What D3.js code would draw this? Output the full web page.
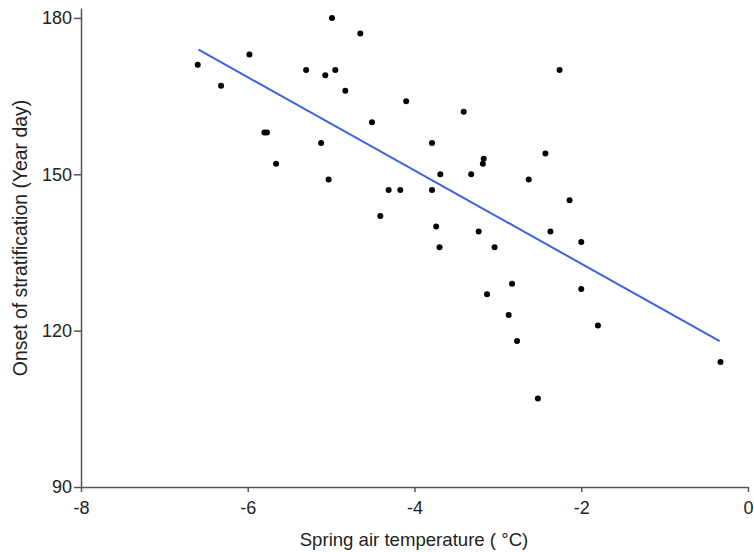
<!DOCTYPE html>
<html>
<head>
<meta charset="utf-8">
<script src="https://cdn.jsdelivr.net/npm/d3@7"></script>
<style>
  body { margin: 0; background: #fff; }
  svg { font-family: "Liberation Sans", Arial, sans-serif; }
</style>
</head>
<body>
<svg id="chart" width="754" height="552"></svg>
<script>
// spring air temperature (°C)
const temps = [-6.60, -6.32, -5.98, -5.80, -5.77, -5.66, -5.30, -5.07, -4.95, -4.99,
  -4.65, -4.83, -5.12, -5.03, -4.51, -4.10, -4.31, -4.17, -4.41, -3.41,
  -2.26, -3.79, -2.43, -3.17, -3.18, -3.69, -3.32, -2.63, -3.79, -2.14,
  -3.74, -3.23, -2.37, -3.70, -3.04, -2.00, -2.83, -3.13, -2.00, -2.87,
  -1.80, -2.77, -0.33, -2.52];
// onset of stratification (year day)
const onset = [171, 167, 173, 158, 158, 152, 170, 169, 170, 180,
  177, 166, 156, 149, 160, 164, 147, 147, 142, 162,
  170, 156, 154, 153, 152, 150, 150, 149, 147, 145,
  140, 139, 139, 136, 136, 137, 129, 127, 128, 123,
  121, 118, 114, 107];
// fitted line end points
const fitX = [-6.59, -0.34];
const fitY = [173.9, 118.0];

const xTicks = [-8, -6, -4, -2, 0];
const yTicks = [90, 120, 150, 180];

const svg = d3.select("#chart");
const x = d3.scaleLinear().domain([-8, 0]).range([81, 748]);
const y = d3.scaleLinear().domain([90, 181.9]).range([487, 8]);

const axisColor = "#555";

// x axis
const gx = svg.append("g")
  .attr("transform", "translate(0,487)")
  .call(d3.axisBottom(x).tickValues(xTicks).tickSize(5).tickPadding(9).tickSizeOuter(0)
    .tickFormat(d => d === 0 ? "0" : String(d)));
gx.select(".domain").attr("stroke", axisColor).attr("stroke-width", 1.5);
gx.selectAll(".tick line").attr("stroke", axisColor).attr("stroke-width", 1.5);
gx.selectAll("text").attr("fill", "#222").style("font-size", "18px");

// y axis
const gy = svg.append("g")
  .attr("transform", "translate(81,0)")
  .call(d3.axisLeft(y).tickValues(yTicks).tickSize(7).tickPadding(2).tickSizeOuter(0));
gy.select(".domain").attr("stroke", axisColor).attr("stroke-width", 1.5);
gy.selectAll(".tick line").attr("stroke", axisColor).attr("stroke-width", 1.5);
gy.selectAll("text").attr("fill", "#222").style("font-size", "18px");

// axis titles
svg.append("text")
  .attr("x", 414).attr("y", 546)
  .attr("text-anchor", "middle")
  .attr("fill", "#222")
  .style("font-size", "18.6px")
  .text("Spring air temperature ( °C)");

svg.append("text")
  .attr("transform", "translate(27,238) rotate(-90)")
  .attr("text-anchor", "middle")
  .attr("fill", "#222")
  .style("font-size", "19.4px")
  .text("Onset of stratification (Year day)");

// regression line
svg.append("line")
  .attr("x1", x(fitX[0])).attr("y1", y(fitY[0]))
  .attr("x2", x(fitX[1])).attr("y2", y(fitY[1]))
  .attr("stroke", "#3b62e0")
  .attr("stroke-width", 2);

// points
svg.selectAll(".dot")
  .data(temps.map((t, i) => ({ t, v: onset[i] })))
  .enter().append("circle")
  .attr("class", "dot")
  .attr("cx", d => x(d.t))
  .attr("cy", d => y(d.v))
  .attr("r", 3)
  .attr("fill", "#000");
</script>
</body>
</html>
